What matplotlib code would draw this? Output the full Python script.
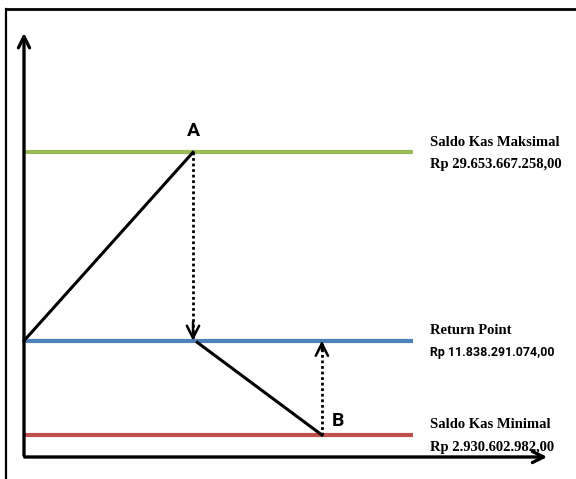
import matplotlib.pyplot as plt
from matplotlib.lines import Line2D
from matplotlib import font_manager

# cash levels (billion Rp) and the time points of the model
levels = {
    "max": 29.653667258,
    "return": 11.838291074,
    "min": 2.930602982,
}
level_labels = {
    "max": ("Saldo Kas Maksimal", "Rp 29.653.667.258,00"),
    "return": ("Return Point", "Rp 11.838.291.074,00"),
    "min": ("Saldo Kas Minimal", "Rp 2.930.602.982,00"),
}
level_colors = {"max": "#9BBB59", "return": "#4F81BD", "min": "#C0504D"}

t_start, t_a, t_b, t_end = 0.0, 4.0, 7.05, 9.2
axis_x_end, axis_y_end = 12.45, 41.2
axis_y0 = 0.85

installed = {f.name for f in font_manager.fontManager.ttflist}
narrow = "Liberation Sans Narrow" if "Liberation Sans Narrow" in installed else "Roboto"

fig = plt.figure(figsize=(5.76, 4.79), dpi=100)
ax = fig.add_axes([0, 0, 1, 1])
ax.set_xlim(-0.568, 13.065)
ax.set_ylim(-1.23, 44.05)
ax.axis("off")

# outer frame (top and left edges)
fig.add_artist(Line2D([6 / 576, 1], [1 - 9 / 479, 1 - 9 / 479], color="black", lw=2.0,
                      transform=fig.transFigure))
fig.add_artist(Line2D([6 / 576, 6 / 576], [0, 1 - 9 / 479], color="black", lw=1.6,
                      transform=fig.transFigure))

# axes arrows
ax.annotate("", xy=(0, axis_y_end), xytext=(0, axis_y0 - 0.1),
            arrowprops=dict(arrowstyle="->", lw=2.4, color="black", mutation_scale=20))
ax.annotate("", xy=(axis_x_end, axis_y0), xytext=(-0.05, axis_y0),
            arrowprops=dict(arrowstyle="->", lw=2.4, color="black", mutation_scale=20))

# horizontal level lines with labels
for key in ["max", "return", "min"]:
    y = levels[key]
    ax.plot([t_start, t_end], [y, y], color=level_colors[key], lw=3.0,
            solid_capstyle="butt", zorder=2)
    title, amount = level_labels[key]
    ax.text(t_end + 0.42, y + 0.95, title, fontsize=10.5, fontweight="bold",
            family="Liberation Serif", va="center", ha="left")
    if key == "return":
        ax.text(t_end + 0.42, y - 1.15, amount, fontsize=8.9, fontweight="bold",
                family=narrow, va="center", ha="left")
    else:
        ax.text(t_end + 0.42, y - 1.15, amount, fontsize=10.5, fontweight="bold",
                family="Liberation Serif", va="center", ha="left")

# cash balance path
ax.plot([t_start, t_a], [levels["return"], levels["max"]], color="black", lw=2.2, zorder=3)
ax.plot([t_a + 0.1, t_b], [levels["return"] - 0.15, levels["min"]], color="black", lw=2.2,
        zorder=3)

# dotted transfer arrows
for x, y_from, y_to in [(t_a, levels["max"], levels["return"]),
                        (t_b, levels["min"], levels["return"])]:
    ax.plot([x, x], [y_from, y_to], color="black", lw=2.0, ls=(0, (1.0, 1.0)), zorder=3)
    ax.annotate("", xy=(x, y_to), xytext=(x, y_to + (y_from - y_to) * 0.1),
                arrowprops=dict(arrowstyle="->", lw=1.8, color="black",
                                mutation_scale=22, shrinkA=0, shrinkB=0))

ax.text(t_a, levels["max"] + 2.0, "A", fontsize=14, fontweight="bold", ha="center",
        va="center", family=narrow)
ax.text(t_b + 0.38, levels["min"] + 1.35, "B", fontsize=14, fontweight="bold",
        ha="center", va="center", family=narrow)

fig.savefig("out.png", dpi=100)
